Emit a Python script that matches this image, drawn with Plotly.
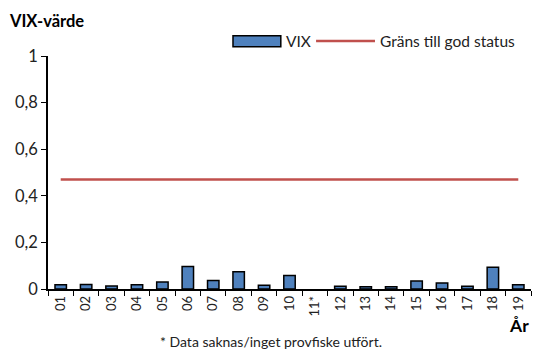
import plotly.graph_objects as go

# VIX per year (two-digit year labels); 11 has no sampling
years = ["01", "02", "03", "04", "05", "06", "07", "08", "09", "10",
         "11*", "12", "13", "14", "15", "16", "17", "18", "19"]
vix = [0.018, 0.019, 0.013, 0.018, 0.030, 0.097, 0.036, 0.074, 0.016, 0.058,
       None, 0.012, 0.010, 0.010, 0.034, 0.026, 0.012, 0.093, 0.018]
good_status_limit = [0.47] * len(years)

y_ticks = [0, 0.2, 0.4, 0.6, 0.8, 1]

FONT = "Lato"
BLUE = "#4F81BD"
RED = "#C0504D"

fig = go.Figure()
fig.add_trace(go.Bar(
    x=years, y=vix, name="VIX",
    marker=dict(color=BLUE, line=dict(color="black", width=1.5)),
    width=0.45, showlegend=False,
))
fig.add_trace(go.Scatter(
    x=years, y=good_status_limit, mode="lines", name="Gräns till god status",
    line=dict(color=RED, width=2.5), showlegend=False,
))

# Legend drawn in paper coordinates
fig.add_shape(type="rect", xref="paper", yref="paper",
              x0=0.383, x1=0.482, y0=1.04, y1=1.087,
              fillcolor=BLUE, line=dict(color="black", width=1.5))
fig.add_annotation(text="VIX", xref="paper", yref="paper", x=0.488, y=1.064,
                   xanchor="left", yanchor="middle", showarrow=False,
                   font=dict(family=FONT, size=15.5, color="#222"))
fig.add_shape(type="line", xref="paper", yref="paper",
              x0=0.555, x1=0.677, y0=1.064, y1=1.064,
              line=dict(color=RED, width=2.5))
fig.add_annotation(text="Gräns till god status", xref="paper", yref="paper",
                   x=0.683, y=1.064, xanchor="left", yanchor="middle",
                   showarrow=False, font=dict(family=FONT, size=15.5, color="#222"))

fig.add_annotation(text="<b>VIX-värde</b>", xref="paper", yref="paper",
                   x=-0.085, y=1.15, xanchor="left", yanchor="middle",
                   showarrow=False, font=dict(family=FONT, size=16.5, color="black"))
fig.add_annotation(text="<b>År</b>", xref="paper", yref="paper",
                   x=1.0, y=-0.155, xanchor="right", yanchor="middle",
                   showarrow=False, font=dict(family=FONT, size=17.5, color="black"))
fig.add_annotation(text="* Data saknas/inget provfiske utfört.", xref="paper", yref="paper",
                   x=0.462, y=-0.225, xanchor="center", yanchor="middle",
                   showarrow=False, font=dict(family=FONT, size=14, color="#222"))

fig.update_layout(
    width=533, height=350,
    margin=dict(l=48, r=2, t=56, b=61),
    paper_bgcolor="white", plot_bgcolor="white",
    separators=", ",
    font=dict(family=FONT, color="black"),
    bargap=0.55,
)
fig.update_xaxes(
    type="category", tickson="boundaries", ticks="outside", ticklen=5,
    tickcolor="black", showline=True, linecolor="black", linewidth=1.5,
    tickangle=-90, tickfont=dict(family=FONT, size=13, color="#222"),
    showgrid=False,
)
fig.update_yaxes(
    range=[0, 1], tickvals=y_ticks, ticks="outside", ticklen=5,
    tickcolor="black", showline=True, linecolor="black", linewidth=1.5,
    tickfont=dict(family=FONT, size=16.5, color="#222"), showgrid=False,
    zeroline=False,
)

fig.write_html("out.html")
